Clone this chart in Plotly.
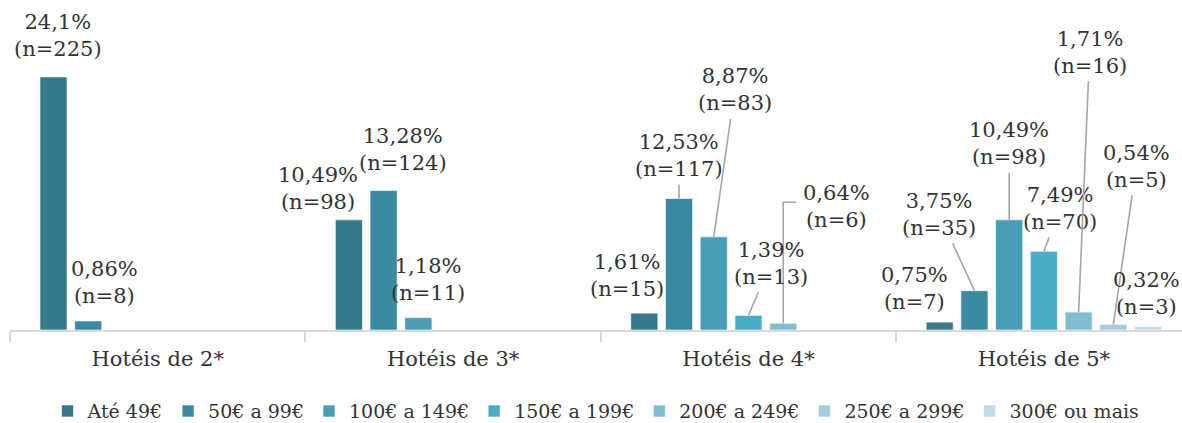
import plotly.graph_objects as go

# Categories and price bands
categories = ["Hotéis de 2*", "Hotéis de 3*", "Hotéis de 4*", "Hotéis de 5*"]
bands = ["Até 49€", "50€ a 99€", "100€ a 149€", "150€ a 199€",
         "200€ a 249€", "250€ a 299€", "300€ ou mais"]

# Share (%) per band, one list per band across the four categories (None = no answer)
ate_49 = [24.1, 10.49, 1.61, 0.75]
de_50_99 = [0.86, 13.28, 12.53, 3.75]
de_100_149 = [None, 1.18, 8.87, 10.49]
de_150_199 = [None, None, 1.39, 7.49]
de_200_249 = [None, None, 0.64, 1.71]
de_250_299 = [None, None, None, 0.54]
mais_300 = [None, None, None, 0.32]

# Respondent counts behind each share
n_ate_49 = [225, 98, 15, 7]
n_50_99 = [8, 124, 117, 35]
n_100_149 = [None, 11, 83, 98]
n_150_199 = [None, None, 13, 70]
n_200_249 = [None, None, 6, 16]
n_250_299 = [None, None, None, 5]
n_300 = [None, None, None, 3]

values = [ate_49, de_50_99, de_100_149, de_150_199, de_200_249, de_250_299, mais_300]
counts = [n_ate_49, n_50_99, n_100_149, n_150_199, n_200_249, n_250_299, n_300]

colors = ["#35798A", "#3A8BA2", "#459EB5", "#4AADC7", "#80BDD1", "#A5CEDD", "#C3DDE6"]

FONT = "DejaVu Serif"
TEXT = "#333333"
LEADER = "#A6A6A6"
BARGAP = 0.177
GROUPGAP = 0.22

# Label placement: (series, category) -> (dx, dy, leader style)
label_offsets = {
    (0, 0): (4, -41, None), (1, 0): (16, -38, None),
    (0, 1): (-31, -31, None), (1, 1): (19, -41, None), (2, 1): (10, -38, None),
    (0, 2): (-17, -38, None), (1, 2): (0, -43, "line"), (2, 2): (21, -147, "line"),
    (3, 2): (22, -52, "line"), (4, 2): (53, -117, "elbow"),
    (0, 3): (-25, -34, None), (1, 3): (-35, -76, "line"), (2, 3): (0, -76, "line"),
    (3, 3): (16, -43, "line"), (4, 3): (11, -260, "line"), (5, 3): (23, -158, "line"),
    (6, 3): (-2, -33, None),
}

def fmt(v):
    s = f"{v:.2f}".rstrip("0") if v >= 20 else f"{v:.2f}"
    return s.replace(".", ",")

fig = go.Figure()
for i, (band, vals) in enumerate(zip(bands, values)):
    fig.add_trace(go.Bar(
        name=band, x=categories, y=vals,
        marker=dict(color=colors[i], line=dict(color="rgba(255,255,255,0.6)", width=1)),
        hoverinfo="skip",
    ))

nser = len(bands)
slot = (1 - BARGAP) / nser
annotations = []
shapes = []
for i in range(nser):
    for c in range(len(categories)):
        v = values[i][c]
        if v is None:
            continue
        xpos = c - (1 - BARGAP) / 2 + (i + 0.5) * slot
        dx, dy, leader = label_offsets[(i, c)]
        annotations.append(dict(
            x=xpos, y=v, xref="x", yref="y",
            text=f"{fmt(v)}%<br>(n={counts[i][c]})",
            showarrow=True, arrowhead=0, arrowwidth=1.6,
            arrowcolor=LEADER if leader == "line" else "rgba(0,0,0,0)",
            ax=dx, ay=dy, standoff=0, startstandoff=2,
            font=dict(family=FONT, size=21, color=TEXT),
        ))
        if leader == "elbow":
            # vertical riser from the bar top, then a short step right to the label
            shapes.append(dict(
                type="path", xref="x", yref="y",
                xsizemode="pixel", ysizemode="pixel",
                xanchor=xpos, yanchor=v,
                path="M0,0 L0,121 L13,121",
                line=dict(color=LEADER, width=1.6),
            ))

fig.update_layout(
    width=1182, height=423,
    margin=dict(l=10, r=0, t=0, b=93, autoexpand=False),
    paper_bgcolor="white", plot_bgcolor="white",
    barmode="group", bargap=BARGAP, bargroupgap=GROUPGAP,
    font=dict(family=FONT, size=19, color=TEXT),
    showlegend=True,
    legend=dict(orientation="h", x=0.5, xanchor="center",
                yref="container", y=0.028, yanchor="middle",
                font=dict(family=FONT, size=19, color=TEXT),
                itemwidth=30, traceorder="normal"),
    annotations=annotations,
    shapes=shapes,
)
fig.update_xaxes(
    type="category", range=[-0.5, -0.5 + 1172 / 295.4],
    showline=True, linecolor="#D9D9D9", linewidth=2,
    ticks="outside", tickson="boundaries", ticklen=10, tickcolor="#D9D9D9", tickwidth=2,
    ticklabelstandoff=9,
    tickfont=dict(family=FONT, size=21, color=TEXT),
    showgrid=False,
)
fig.update_yaxes(range=[0, 330 / 10.5], visible=False, showgrid=False)

fig.write_html("out.html")
